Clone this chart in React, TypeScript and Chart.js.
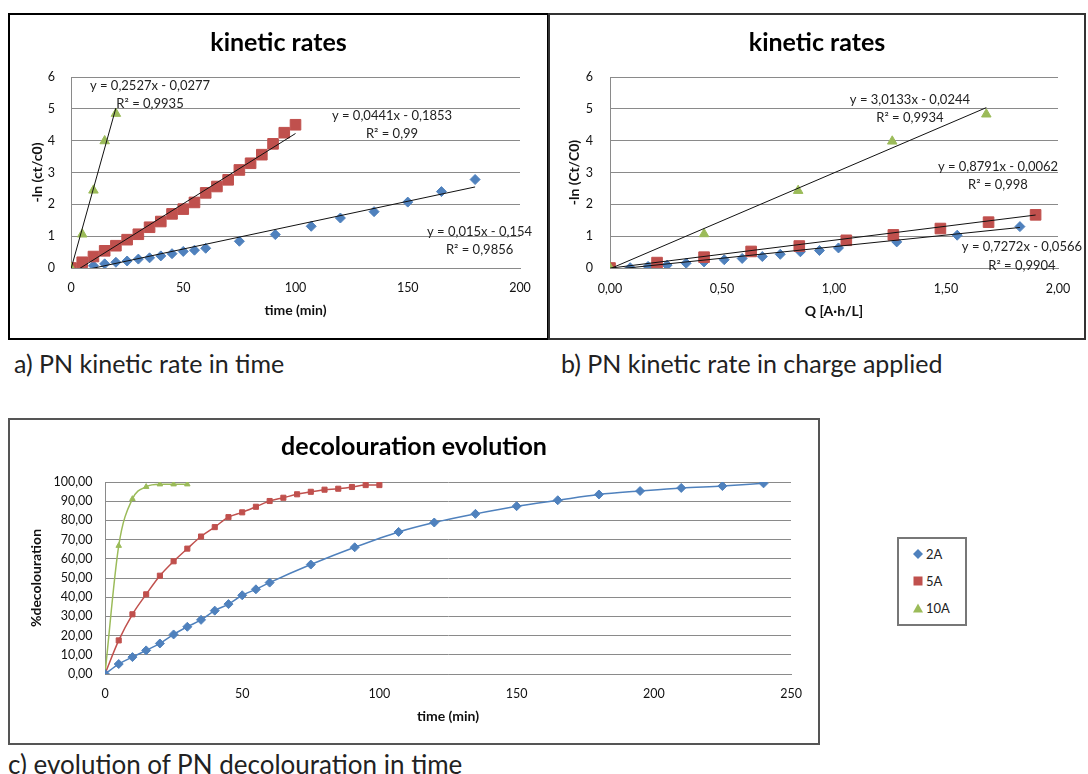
import React, { useEffect, useRef } from 'react';
import { Chart, registerables } from 'chart.js';
Chart.register(...registerables);

const FONT = 'Lato, "Open Sans", sans-serif';
const BLUE = '#4F81BD';
const RED = '#C0504D';
const GREEN = '#9BBB59';
const GRID = '#8a8a8a';
const TXT = '#111111';

// ---------- Panel a: -ln(ct/c0) vs time ----------
const timeA2 = [0, 5, 10, 15, 20, 25, 30, 35, 40, 45, 50, 55, 60, 75, 91, 107, 120, 135, 150, 165, 180];
const lnA2 = [0, 0.03, 0.07, 0.13, 0.18, 0.22, 0.28, 0.32, 0.38, 0.45, 0.52, 0.56, 0.62, 0.84, 1.05, 1.31, 1.57, 1.77, 2.07, 2.40, 2.78];
const timeA5 = [0, 5, 10, 15, 20, 25, 30, 35, 40, 45, 50, 55, 60, 65, 70, 75, 80, 85, 90, 95, 100];
const lnA5 = [0, 0.18, 0.36, 0.54, 0.70, 0.89, 1.06, 1.28, 1.46, 1.70, 1.85, 2.06, 2.36, 2.56, 2.77, 3.08, 3.29, 3.56, 3.90, 4.25, 4.50];
const timeA10 = [0, 5, 10, 15, 20];
const lnA10 = [0, 1.06, 2.44, 3.99, 4.85];
// trendlines [2A, 5A, 10A]
const slopeA = [0.015, 0.0441, 0.2527];
const interA = [-0.154, -0.1853, -0.0277];
const eqTextA = ['y = 0,015x - 0,154', 'y = 0,0441x - 0,1853', 'y = 0,2527x - 0,0277'];
const r2TextA = ['R² = 0,9856', 'R² = 0,99', 'R² = 0,9935'];

// ---------- Panel b: -ln(ct/c0) vs Q ----------
const qB2 = [0, 0.09, 0.17, 0.255, 0.34, 0.42, 0.51, 0.59, 0.68, 0.76, 0.85, 0.935, 1.02, 1.28, 1.55, 1.83];
const lnB2 = [0, 0.01, 0.05, 0.09, 0.15, 0.19, 0.26, 0.30, 0.36, 0.43, 0.51, 0.55, 0.63, 0.82, 1.03, 1.30];
const qB5 = [0, 0.21, 0.42, 0.63, 0.845, 1.055, 1.265, 1.475, 1.69, 1.9];
const lnB5 = [0, 0.17, 0.34, 0.52, 0.69, 0.87, 1.04, 1.24, 1.44, 1.67];
const qB10 = [0, 0.42, 0.84, 1.26, 1.68];
const lnB10 = [0, 1.07, 2.43, 3.98, 4.83];
const slopeB = [0.7272, 0.8791, 3.0133];
const interB = [-0.0566, -0.0062, -0.0244];
const eqTextB = ['y = 0,7272x - 0,0566', 'y = 0,8791x - 0,0062', 'y = 3,0133x - 0,0244'];
const r2TextB = ['R² = 0,9904', 'R² = 0,998', 'R² = 0,9934'];

// ---------- Panel c: % decolouration vs time ----------
const timeC2 = [0, 5, 10, 15, 20, 25, 30, 35, 40, 45, 50, 55, 60, 75, 91, 107, 120, 135, 150, 165, 180, 195, 210, 225, 240];
const decolC2 = [0, 5.2, 8.8, 12.3, 15.9, 20.6, 24.6, 28.2, 33.0, 36.4, 41.0, 44.1, 47.6, 57.0, 66.0, 74.0, 78.9, 83.4, 87.4, 90.5, 93.5, 95.3, 96.9, 97.9, 99.3];
const timeC5 = [0, 5, 10, 15, 20, 25, 30, 35, 40, 45, 50, 55, 60, 65, 70, 75, 80, 85, 90, 95, 100];
const decolC5 = [0, 17.5, 31.1, 41.5, 51.2, 58.7, 65.3, 71.6, 76.5, 81.7, 84.2, 87.1, 90.1, 91.8, 93.6, 94.9, 96.0, 96.5, 97.4, 98.4, 98.4];
const timeC10 = [0, 5, 10, 15, 20, 25, 30];
const decolC10 = [0, 66.8, 91.2, 97.5, 98.8, 98.8, 98.8];

const seriesNames = ['2A', '5A', '10A'];

const pts = (xs: number[], ys: number[]) => xs.map((x, i) => ({ x, y: ys[i] }));
const trend = (xs: number[], m: number, b: number) => {
  const x0 = Math.min(...xs);
  const x1 = Math.max(...xs);
  return [{ x: x0, y: m * x0 + b }, { x: x1, y: m * x1 + b }];
};
const comma = (d: number) => (v: any) => Number(v).toFixed(d).replace('.', ',');

const eqPlugin = {
  id: 'eqLabels',
  afterDatasetsDraw(chart: any, _a: any, opts: any) {
    const items = (opts && opts.items) || [];
    const ctx = chart.ctx;
    const xs = chart.scales.x;
    const ys = chart.scales.y;
    ctx.save();
    ctx.font = `13px ${FONT}`;
    ctx.fillStyle = '#222';
    ctx.textAlign = 'center';
    ctx.textBaseline = 'middle';
    for (const it of items) {
      ctx.fillText(it.text, xs.getPixelForValue(it.x), ys.getPixelForValue(it.y));
    }
    ctx.restore();
  },
};

type Geo = {
  right: number; yWidth: number; yTickPad: number; yTitlePad: number;
  xHeight: number; xTickPad: number; xTitlePad: number;
  tTop: number; tBottom: number; tSize: number;
};

function buildOptions(o: {
  title: string; xTitle: string; yTitle: string;
  xMax: number; xStep: number; yMax: number; yStep: number;
  xFmt?: (v: any) => string; yFmt?: (v: any) => string;
  yTitleSize: number; eq: any[]; geo: Geo;
}) {
  const g = o.geo;
  const tickFont = { family: FONT, size: 12.5 };
  return {
    responsive: false,
    animation: false,
    layout: { padding: 0 },
    plugins: {
      legend: { display: false },
      tooltip: { enabled: false },
      title: {
        display: true,
        text: o.title,
        color: '#000',
        font: { family: FONT, size: g.tSize, weight: 'bold' },
        padding: { top: g.tTop, bottom: g.tBottom },
      },
      eqLabels: { items: o.eq },
    },
    scales: {
      x: {
        type: 'linear',
        min: 0,
        max: o.xMax,
        ticks: { stepSize: o.xStep, padding: g.xTickPad, color: TXT, font: tickFont, callback: o.xFmt || ((v: any) => String(v)) },
        grid: { display: false, drawTicks: false },
        border: { display: true, color: GRID, width: 1 },
        title: { display: true, text: o.xTitle, color: TXT, font: { family: FONT, size: 14, weight: 'bold' }, padding: { top: 0, bottom: g.xTitlePad } },
        afterFit: (s: any) => { s.height = g.xHeight; },
      },
      y: {
        type: 'linear',
        min: 0,
        max: o.yMax,
        ticks: { stepSize: o.yStep, padding: g.yTickPad, color: TXT, font: tickFont, callback: o.yFmt || ((v: any) => String(v)) },
        grid: { color: GRID, lineWidth: 1, drawTicks: false },
        border: { display: true, color: GRID, width: 1 },
        title: { display: true, text: o.yTitle, color: TXT, font: { family: FONT, size: o.yTitleSize, weight: 'bold' }, padding: { top: g.yTitlePad, bottom: 0 } },
        afterFit: (s: any) => { s.width = g.yWidth; },
      },
      // empty right-hand spacer so the title stays centred on the whole canvas
      yR: {
        type: 'linear',
        position: 'right',
        display: true,
        ticks: { display: false },
        grid: { display: false, drawTicks: false },
        border: { display: false },
        afterFit: (s: any) => { s.width = g.right; },
      },
    },
  };
}

const markerDs = (label: string, data: any[], color: string, style: string, r: number) => ({
  type: 'scatter',
  label,
  data,
  showLine: false,
  pointStyle: style,
  pointRadius: r,
  pointBackgroundColor: color,
  pointBorderColor: color,
  pointBorderWidth: 1,
});
const trendDs = (data: any[]) => ({
  type: 'line',
  label: 'trend',
  data,
  showLine: true,
  borderColor: '#111',
  borderWidth: 1,
  pointRadius: 0,
  fill: false,
});
const smoothDs = (label: string, data: any[], color: string, style: string, r: number) => ({
  type: 'scatter',
  label,
  data,
  showLine: true,
  borderColor: color,
  borderWidth: 1.5,
  cubicInterpolationMode: 'monotone',
  pointStyle: style,
  pointRadius: r,
  pointBackgroundColor: color,
  pointBorderColor: color,
  pointBorderWidth: 1,
});

function ChartBox(props: { cfg: any; left: number; top: number; width: number; height: number; border: string }) {
  const ref = useRef<HTMLCanvasElement | null>(null);
  useEffect(() => {
    if (!ref.current) return;
    const ch = new Chart(ref.current, props.cfg);
    return () => ch.destroy();
  }, []);
  const cw = props.width - 4;
  const chh = props.height - 4;
  return (
    <div style={{ position: 'absolute', left: props.left, top: props.top, width: props.width, height: props.height, boxSizing: 'border-box', border: props.border, background: '#fff' }}>
      <canvas ref={ref} width={cw} height={chh} style={{ display: 'block', width: cw, height: chh }} />
    </div>
  );
}

const cfgA = {
  type: 'scatter',
  data: {
    datasets: [
      trendDs(trend(timeA2, slopeA[0], interA[0])),
      trendDs(trend(timeA5, slopeA[1], interA[1])),
      trendDs(trend(timeA10, slopeA[2], interA[2])),
      markerDs(seriesNames[2], pts(timeA10, lnA10), GREEN, 'triangle', 5.5),
      markerDs(seriesNames[1], pts(timeA5, lnA5), RED, 'rect', 7.5),
      markerDs(seriesNames[0], pts(timeA2, lnA2), BLUE, 'rectRot', 5),
    ],
  },
  options: buildOptions({
    title: 'kinetic rates', xTitle: 'time (min)', yTitle: '-ln (ct/c0)',
    xMax: 200, xStep: 50, yMax: 6, yStep: 1, yTitleSize: 14,
    eq: [
      { x: 182, y: 1.14, text: eqTextA[0] }, { x: 182, y: 0.57, text: r2TextA[0] },
      { x: 143, y: 4.77, text: eqTextA[1] }, { x: 143, y: 4.21, text: r2TextA[1] },
      { x: 35.2, y: 5.71, text: eqTextA[2] }, { x: 35.2, y: 5.17, text: r2TextA[2] },
    ],
    geo: { right: 27, yWidth: 61, yTickPad: 16, yTitlePad: 19.5, xHeight: 70, xTickPad: 12, xTitlePad: 19, tTop: 13, tBottom: 19, tSize: 25 },
  }),
  plugins: [eqPlugin],
};

const cfgB = {
  type: 'scatter',
  data: {
    datasets: [
      trendDs(trend(qB2, slopeB[0], interB[0])),
      trendDs(trend(qB5, slopeB[1], interB[1])),
      trendDs(trend(qB10, slopeB[2], interB[2])),
      markerDs(seriesNames[2], pts(qB10, lnB10), GREEN, 'triangle', 5.5),
      markerDs(seriesNames[1], pts(qB5, lnB5), RED, 'rect', 7.5),
      markerDs(seriesNames[0], pts(qB2, lnB2), BLUE, 'rectRot', 5),
    ],
  },
  options: buildOptions({
    title: 'kinetic rates', xTitle: 'Q [A·h/L]', yTitle: '-ln (Ct/C0)',
    xMax: 2, xStep: 0.5, yMax: 6, yStep: 1, yTitleSize: 14, xFmt: comma(2),
    eq: [
      { x: 1.839, y: 0.66, text: eqTextB[0] }, { x: 1.839, y: 0.07, text: r2TextB[0] },
      { x: 1.732, y: 3.18, text: eqTextB[1] }, { x: 1.732, y: 2.61, text: r2TextB[1] },
      { x: 1.339, y: 5.29, text: eqTextB[2] }, { x: 1.339, y: 4.73, text: r2TextB[2] },
    ],
    geo: { right: 26, yWidth: 60, yTickPad: 17, yTitlePad: 16.5, xHeight: 70, xTickPad: 13, xTitlePad: 18, tTop: 13, tBottom: 19, tSize: 25 },
  }),
  plugins: [eqPlugin],
};

const cfgC = {
  type: 'scatter',
  data: {
    datasets: [
      smoothDs(seriesNames[0], pts(timeC2, decolC2), BLUE, 'rectRot', 4.5),
      smoothDs(seriesNames[1], pts(timeC5, decolC5), RED, 'rect', 3.6),
      smoothDs(seriesNames[2], pts(timeC10, decolC10), GREEN, 'triangle', 3.2),
    ],
  },
  options: buildOptions({
    title: 'decolouration evolution', xTitle: 'time (min)', yTitle: '%decolouration',
    xMax: 250, xStep: 50, yMax: 100, yStep: 10, yTitleSize: 14, yFmt: comma(2),
    eq: [],
    geo: { right: 27, yWidth: 95, yTickPad: 12.4, yTitlePad: 18.5, xHeight: 69, xTickPad: 12.5, xTitlePad: 18.5, tTop: 12, tBottom: 20, tSize: 25 },
  }),
  plugins: [eqPlugin],
};

function Marker({ kind, color }: { kind: string; color: string }) {
  return (
    <svg width={12} height={12} style={{ display: 'block' }}>
      {kind === 'diamond' && <polygon points="6,1 11,6 6,11 1,6" fill={color} />}
      {kind === 'square' && <rect x={1.5} y={1.5} width={9} height={9} fill={color} />}
      {kind === 'triangle' && <polygon points="6,1.5 11,10.5 1,10.5" fill={color} />}
    </svg>
  );
}

export default function App() {
  const caption = { position: 'absolute' as const, fontFamily: FONT, color: '#222', whiteSpace: 'nowrap' as const };
  const legendItems = [
    { name: seriesNames[0], kind: 'diamond', color: BLUE, y: 554 },
    { name: seriesNames[1], kind: 'square', color: RED, y: 581 },
    { name: seriesNames[2], kind: 'triangle', color: GREEN, y: 608 },
  ];
  return (
    <div style={{ position: 'fixed', left: 0, top: 0, width: 1088, height: 774, background: '#fff', overflow: 'hidden' }}>
      <ChartBox cfg={cfgA} left={8} top={13} width={541} height={327} border="2px solid #000" />
      <ChartBox cfg={cfgB} left={548} top={13} width={538} height={327} border="2px solid #333" />
      <ChartBox cfg={cfgC} left={8} top={418} width={812} height={327} border="2px solid #555" />
      <div style={{ ...caption, left: 14, top: 348, fontSize: 25, lineHeight: '30px' }}>a) PN kinetic rate in time</div>
      <div style={{ ...caption, left: 561, top: 348, fontSize: 25, lineHeight: '30px' }}>b) PN kinetic rate in charge applied</div>
      <div style={{ ...caption, left: 8, top: 749, fontSize: 26, lineHeight: '30px' }}>c) evolution of PN decolouration in time</div>
      <div style={{ position: 'absolute', left: 897, top: 537, width: 70, height: 89, boxSizing: 'border-box', border: '2px solid #777', background: '#fff' }} />
      {legendItems.map((it) => (
        <React.Fragment key={it.name}>
          <div style={{ position: 'absolute', left: 912, top: it.y - 6 }}>
            <Marker kind={it.kind} color={it.color} />
          </div>
          <div style={{ position: 'absolute', left: 926, top: it.y - 8, fontFamily: FONT, fontSize: 13, lineHeight: '16px', color: '#222' }}>{it.name}</div>
        </React.Fragment>
      ))}
    </div>
  );
}
